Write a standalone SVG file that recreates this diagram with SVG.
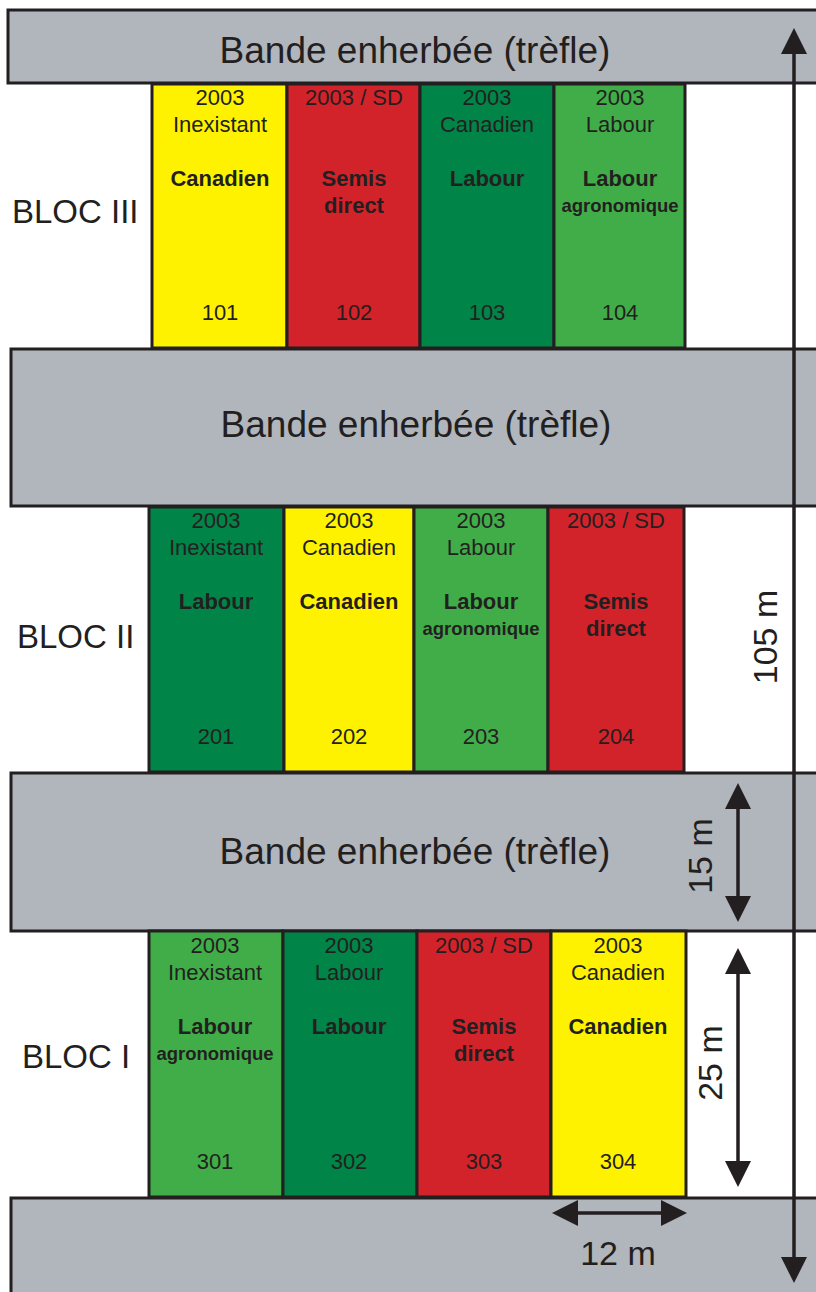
<svg xmlns="http://www.w3.org/2000/svg" width="816" height="1292" viewBox="0 0 816 1292">
<defs>
<style>
.band{fill:#b1b5bc;stroke:#231f20;stroke-width:3}
.plot{stroke:#231f20;stroke-width:3}
.y{fill:#fff200}.r{fill:#d2232a}.dg{fill:#008448}.lg{fill:#41ad49}
text{font-family:"Liberation Sans",Arial,sans-serif;fill:#231f20}
.bt{font-size:37px;text-anchor:middle}
.bloc{font-size:33px}
.t{font-size:22px;text-anchor:middle}
.b{font-size:22px;font-weight:bold;text-anchor:middle}
.s{font-size:18.5px;font-weight:bold;text-anchor:middle}
.dim{font-size:34px;text-anchor:middle}
.arr{stroke:#231f20;stroke-width:3.5;fill:none}
</style>
<marker id="ah" viewBox="0 0 26 26" refX="0" refY="13" markerWidth="26" markerHeight="26" markerUnits="userSpaceOnUse" orient="auto-start-reverse">
<path d="M0,0 L26,13 L0,26 Z" fill="#231f20"/>
</marker>
</defs>
<rect width="816" height="1292" fill="#fff"/>

<g id="band1"><rect class="band" x="8" y="10" width="830" height="73"/><text class="bt" x="415" y="63">Bande enherbée (trèfle)</text></g>
<g id="band2"><rect class="band" x="11" y="349" width="830" height="157"/><text class="bt" x="416" y="437">Bande enherbée (trèfle)</text></g>
<g id="band3"><rect class="band" x="11" y="773" width="830" height="158"/><text class="bt" x="415" y="864">Bande enherbée (trèfle)</text></g>
<g id="band4"><rect class="band" x="11" y="1198" width="830" height="120"/></g>

<g id="bloc3-label"><text class="bloc" x="12" y="223">BLOC III</text></g>
<g id="bloc2-label"><text class="bloc" x="17" y="648">BLOC II</text></g>
<g id="bloc1-label"><text class="bloc" x="22" y="1068">BLOC I</text></g>

<g id="p101"><rect class="plot y" x="152" y="84" width="135" height="264"/><text class="t" x="220" y="105">2003</text><text class="t" x="220" y="132">Inexistant</text><text class="b" x="220" y="186">Canadien</text><text class="t" x="220" y="320">101</text></g>
<g id="p102"><rect class="plot r" x="287" y="84" width="133" height="264"/><text class="t" x="354" y="105">2003 / SD</text><text class="b" x="354" y="186">Semis</text><text class="b" x="354" y="213">direct</text><text class="t" x="354" y="320">102</text></g>
<g id="p103"><rect class="plot dg" x="420" y="84" width="134" height="264"/><text class="t" x="487" y="105">2003</text><text class="t" x="487" y="132">Canadien</text><text class="b" x="487" y="186">Labour</text><text class="t" x="487" y="320">103</text></g>
<g id="p104"><rect class="plot lg" x="554" y="84" width="131" height="264"/><text class="t" x="620" y="105">2003</text><text class="t" x="620" y="132">Labour</text><text class="b" x="620" y="186">Labour</text><text class="s" x="620" y="212">agronomique</text><text class="t" x="620" y="320">104</text></g>

<g id="p201"><rect class="plot dg" x="149" y="507" width="135" height="265"/><text class="t" x="216" y="528">2003</text><text class="t" x="216" y="555">Inexistant</text><text class="b" x="216" y="609">Labour</text><text class="t" x="216" y="744">201</text></g>
<g id="p202"><rect class="plot y" x="284" y="507" width="130" height="265"/><text class="t" x="349" y="528">2003</text><text class="t" x="349" y="555">Canadien</text><text class="b" x="349" y="609">Canadien</text><text class="t" x="349" y="744">202</text></g>
<g id="p203"><rect class="plot lg" x="414" y="507" width="134" height="265"/><text class="t" x="481" y="528">2003</text><text class="t" x="481" y="555">Labour</text><text class="b" x="481" y="609">Labour</text><text class="s" x="481" y="635">agronomique</text><text class="t" x="481" y="744">203</text></g>
<g id="p204"><rect class="plot r" x="548" y="507" width="136" height="265"/><text class="t" x="616" y="528">2003 / SD</text><text class="b" x="616" y="609">Semis</text><text class="b" x="616" y="636">direct</text><text class="t" x="616" y="744">204</text></g>

<g id="p301"><rect class="plot lg" x="149" y="931" width="134" height="266"/><text class="t" x="215" y="953">2003</text><text class="t" x="215" y="980">Inexistant</text><text class="b" x="215" y="1034">Labour</text><text class="s" x="215" y="1060">agronomique</text><text class="t" x="215" y="1169">301</text></g>
<g id="p302"><rect class="plot dg" x="283" y="931" width="134" height="266"/><text class="t" x="349" y="953">2003</text><text class="t" x="349" y="980">Labour</text><text class="b" x="349" y="1034">Labour</text><text class="t" x="349" y="1169">302</text></g>
<g id="p303"><rect class="plot r" x="417" y="931" width="134" height="266"/><text class="t" x="484" y="953">2003 / SD</text><text class="b" x="484" y="1034">Semis</text><text class="b" x="484" y="1061">direct</text><text class="t" x="484" y="1169">303</text></g>
<g id="p304"><rect class="plot y" x="551" y="931" width="135" height="266"/><text class="t" x="618" y="953">2003</text><text class="t" x="618" y="980">Canadien</text><text class="b" x="618" y="1034">Canadien</text><text class="t" x="618" y="1169">304</text></g>

<g id="connectors">
<line class="arr" x1="794" y1="54" x2="794" y2="1257" marker-start="url(#ah)" marker-end="url(#ah)"/>
<line class="arr" x1="738" y1="809" x2="738" y2="896" marker-start="url(#ah)" marker-end="url(#ah)"/>
<line class="arr" x1="738" y1="974" x2="738" y2="1161" marker-start="url(#ah)" marker-end="url(#ah)"/>
<line class="arr" x1="578" y1="1213" x2="661" y2="1213" marker-start="url(#ah)" marker-end="url(#ah)"/>
</g>
<g id="dims">
<text class="dim" transform="translate(777,637) rotate(-90)">105 m</text>
<text class="dim" transform="translate(712,856) rotate(-90)">15 m</text>
<text class="dim" transform="translate(722,1063) rotate(-90)">25 m</text>
<text class="dim" x="618" y="1265">12 m</text>
</g>
</svg>
